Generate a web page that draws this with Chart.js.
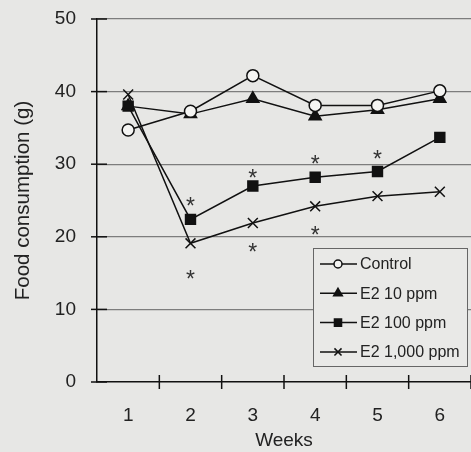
<!DOCTYPE html>
<html>
<head>
<meta charset="utf-8">
<script src="https://cdn.jsdelivr.net/npm/chart.js@4.4.1/dist/chart.umd.min.js"></script>
<style>
  html, body { margin: 0; padding: 0; background: #e7e7e5; }
  #wrap { width: 471px; height: 452px; position: relative; }
</style>
</head>
<body>
<div id="wrap"><canvas id="chart"></canvas></div>
<script>
// ---- data ----
const weeks = ['1', '2', '3', '4', '5', '6'];
const control = [34.7, 37.3, 42.2, 38.1, 38.1, 40.1];
const e2_10 = [38.0, 36.9, 39.0, 36.6, 37.5, 39.0];
const e2_100 = [38.0, 22.4, 27.0, 28.2, 29.0, 33.7];
const e2_1000 = [39.6, 19.1, 21.9, 24.2, 25.6, 26.2];
const yTicks = [0, 10, 20, 30, 40, 50];
// significance marks (week, value)
const starWeeks = ['2', '2', '3', '3', '4', '4', '5'];
const starValues = [24.8, 14.8, 28.7, 18.5, 30.6, 20.8, 31.3];

const seriesNames = ['Control', 'E2 10 ppm', 'E2 100 ppm', 'E2 1,000 ppm'];

const FONT = "'Liberation Sans', Arial, sans-serif";

// cross ticks, asterisks and legend box
const extras = {
  id: 'extras',
  afterDraw(chart) {
    const ctx = chart.ctx;
    const x = chart.scales.x, y = chart.scales.y;
    const area = chart.chartArea;
    ctx.save();
    ctx.strokeStyle = '#111';
    ctx.lineWidth = 1.5;
    // y ticks crossing the axis
    yTicks.forEach(v => {
      const py = y.getPixelForValue(v);
      ctx.beginPath();
      ctx.moveTo(area.left - 6, py);
      ctx.lineTo(area.left + 10, py);
      ctx.stroke();
    });
    // x ticks at category boundaries
    for (let i = 1; i <= weeks.length; i++) {
      const px = (x.getPixelForValue(i - 1) + x.getPixelForValue(i)) / 2;
      ctx.beginPath();
      ctx.moveTo(px, area.bottom - 7);
      ctx.lineTo(px, area.bottom + 7);
      ctx.stroke();
    }
    // asterisks
    ctx.fillStyle = '#333';
    ctx.font = '23px ' + FONT;
    ctx.textAlign = 'center';
    ctx.textBaseline = 'middle';
    starWeeks.forEach((w, i) => {
      ctx.fillText('*', x.getPixelForValue(weeks.indexOf(w)), y.getPixelForValue(starValues[i]) + 6);
    });
    // legend
    const bx = 313, by = 248, bw = 154, bh = 118;
    ctx.fillStyle = '#e9e9e7';
    ctx.fillRect(bx, by, bw, bh);
    ctx.strokeStyle = '#666';
    ctx.lineWidth = 1;
    ctx.strokeRect(bx + 0.5, by + 0.5, bw, bh);
    ctx.font = '16px ' + FONT;
    ctx.textAlign = 'left';
    chart.data.datasets.forEach((ds, i) => {
      const ly = 264 + i * 29.3;
      ctx.strokeStyle = '#111';
      ctx.lineWidth = 1.5;
      ctx.beginPath();
      ctx.moveTo(320, ly);
      ctx.lineTo(357, ly);
      ctx.stroke();
      ctx.fillStyle = ds.pointBackgroundColor;
      Chart.helpers.drawPoint(ctx, {
        pointStyle: ds.pointStyle,
        radius: ds.pointRadius - 2,
        borderWidth: 1.5,
        rotation: 0
      }, 338, ly);
      ctx.fillStyle = '#222';
      ctx.fillText(ds.label, 360, ly + 1);
    });
    ctx.restore();
  }
};

function makeSet(label, data, style, fill, radius) {
  return {
    label: label,
    data: data,
    borderColor: '#111',
    borderWidth: 1.5,
    pointStyle: style,
    pointRadius: radius,
    pointBackgroundColor: fill,
    pointBorderColor: '#111',
    pointBorderWidth: 1.5,
    tension: 0,
    fill: false
  };
}

new Chart(document.getElementById('chart'), {
  type: 'line',
  data: {
    labels: weeks,
    datasets: [
      makeSet(seriesNames[0], control, 'circle', '#f4f4f2', 6),
      makeSet(seriesNames[1], e2_10, 'triangle', '#111', 7),
      makeSet(seriesNames[2], e2_100, 'rect', '#111', 7),
      makeSet(seriesNames[3], e2_1000, 'crossRot', '#111', 7)
    ]
  },
  options: {
    responsive: true,
    maintainAspectRatio: false,
    animation: false,
    layout: { autoPadding: false, padding: { top: 19, right: 0, left: 0, bottom: 0 } },
    plugins: { legend: { display: false }, tooltip: { enabled: false } },
    scales: {
      x: {
        offset: true,
        grid: { display: false, drawTicks: false },
        border: { color: '#111', width: 1.5 },
        ticks: { color: '#222', font: { family: FONT, size: 19 }, padding: 22 },
        title: { display: true, text: 'Weeks', color: '#222', font: { family: FONT, size: 19 }, padding: { top: 0, bottom: 0 } },
        afterFit: s => { s.height = 70; s.paddingLeft = 0; s.paddingRight = 0; }
      },
      y: {
        min: 0,
        max: 50,
        afterBuildTicks: s => { s.ticks = yTicks.map(v => ({ value: v })); },
        grid: {
          drawTicks: false,
          color: c => (c.tick && c.tick.value === 0) ? 'rgba(0,0,0,0)' : '#7d7d7d',
          lineWidth: 1.2
        },
        border: { color: '#111', width: 1.5 },
        ticks: { color: '#222', font: { family: FONT, size: 19 }, padding: 21 },
        title: { display: true, text: 'Food consumption (g)', color: '#222', font: { family: FONT, size: 20.5 }, padding: { top: 11, bottom: 0 } },
        afterFit: s => { s.width = 97; s.paddingTop = 0; s.paddingBottom = 0; }
      }
    }
  },
  plugins: [extras]
});
</script>
</body>
</html>
